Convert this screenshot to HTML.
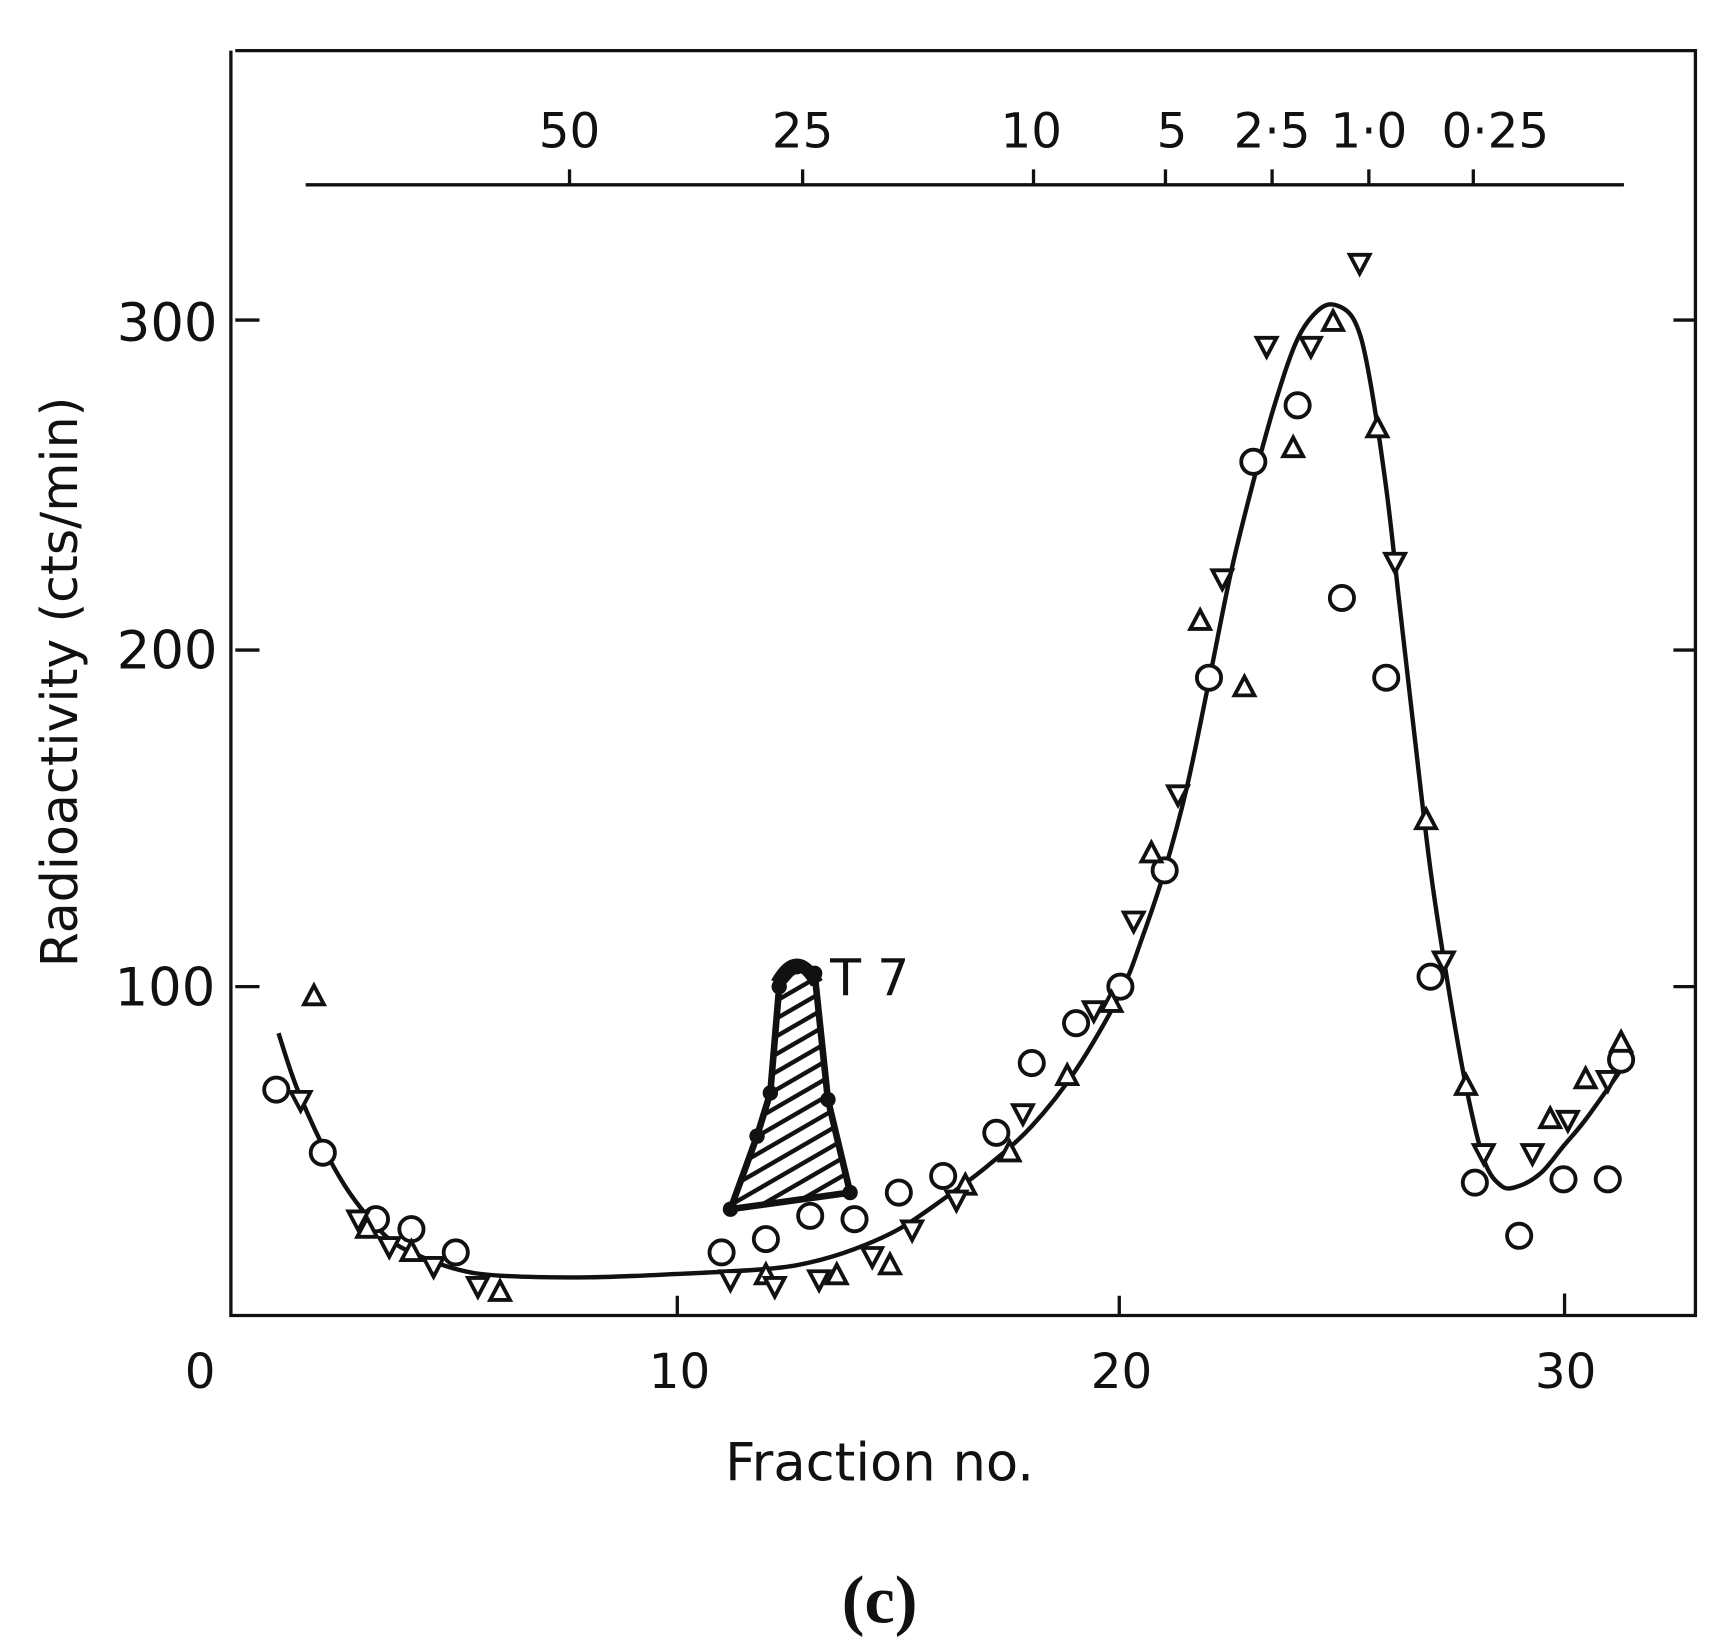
<!DOCTYPE html>
<html><head><meta charset="utf-8"><style>
html,body{margin:0;padding:0;background:#fff}
svg{display:block}
text{font-family:"DejaVu Sans","Liberation Sans",sans-serif;fill:#111}
</style></head><body>
<svg id="s" width="1724" height="1651" viewBox="0 0 1568 1501" preserveAspectRatio="none" xmlns="http://www.w3.org/2000/svg">
<defs>
<pattern id="h" width="14" height="14" patternUnits="userSpaceOnUse" patternTransform="rotate(-30)">
<rect width="14" height="14" fill="#fff"/><line x1="0" y1="7" x2="14" y2="7" stroke="#111" stroke-width="4"/></pattern>
</defs>
<g stroke="#111" fill="none" stroke-width="3">
<path d="M214 46 H1542 V1196 H210 V46"/>
<path d="M278 168 H1477"/>
<path d="M518 168 v-14 M730 168 v-14 M940 168 v-14 M1060 168 v-14 M1157 168 v-14 M1245 168 v-14 M1340 168 v-14"/>
<path d="M214 291 h22 M214 591 h22 M214 897 h22"/>
<path d="M1542 291 h-20 M1542 591 h-20 M1542 897 h-20"/>
<path d="M616 1196 v-18 M1018 1196 v-18 M1423 1196 v-20"/>
</g>
<g font-size="44" text-anchor="middle">
<text x="518" y="134">50</text><text x="730" y="134">25</text><text x="938" y="134">10</text>
<text x="1066" y="134">5</text><text x="1157" y="134">2·5</text><text x="1245" y="134">1·0</text><text x="1360" y="134">0·25</text>
<text x="182" y="1262">0</text><text x="618" y="1262">10</text><text x="1020" y="1262">20</text><text x="1424" y="1262">30</text>
<text x="152" y="310" font-size="48">300</text><text x="152" y="608" font-size="48">200</text><text x="150" y="914" font-size="48">100</text>
<text x="800" y="1346" font-size="48">Fraction no.</text>
<text x="70" y="620" font-size="46" transform="rotate(-90 70 620)">Radioactivity (cts/min)</text>
<text x="755" y="905" font-size="46" text-anchor="start">T 7</text>
</g>
<text x="800" y="1475" font-size="62" text-anchor="middle" font-weight="bold" style="font-family:'Liberation Serif',serif">(c)</text>
<g id="g"></g>
</svg>
<script>
var X=function(f){return 213+40.3*f},Y=function(v){return 1199-3.02*v};
var g=document.getElementById('g'),h='';
function P(a){return a.map(function(p,i){return (i?'L':'M')+X(p[0]).toFixed(1)+' '+Y(p[1]).toFixed(1)}).join(' ')}
var t7=[[11.2,33],[11.8,55],[12.1,68],[12.3,100],[12.7,106],[13.1,104],[13.4,66],[13.9,38]];
h+='<path d="'+P(t7)+' Z" fill="url(#h)" stroke="#111" stroke-width="6" stroke-linejoin="round"/>';
t7.forEach(function(p){h+='<circle cx="'+X(p[0])+'" cy="'+Y(p[1])+'" r="7" fill="#111"/>'});
h+='<path d="M'+X(12.25)+' '+Y(101)+' Q'+X(12.7)+' '+Y(112)+' '+X(13.15)+' '+Y(101)+'" stroke="#111" stroke-width="12" fill="none"/>';
var c=[[1.0,86],[1.4,70],[2,52],[2.5,40],[3,31],[3.5,24],[4,20],[5,15],[6,13],[8,12.5],[10,13.5],[12,15],[13,17],[14,21],[15,27],[16,36],[17,46],[18,58],[19,75],[20,98],[20.5,115],[21,135],[21.5,160],[22,192],[22.5,225],[23,252],[23.5,276],[24,295],[24.5,304],[24.9,305],[25.3,300],[25.6,285],[26,250],[26.3,215],[26.6,180],[27,135],[27.4,100],[27.8,70],[28.2,48],[28.6,40],[29,40],[29.5,44],[30,52],[30.5,60],[31.3,75]];
var d='M'+X(c[0][0])+' '+Y(c[0][1]);
for(var i=1;i<c.length;i++){var p0=c[Math.max(i-2,0)],p1=c[i-1],p2=c[i],p3=c[Math.min(i+1,c.length-1)];
d+=' C'+(X(p1[0])+(X(p2[0])-X(p0[0]))/6)+' '+(Y(p1[1])+(Y(p2[1])-Y(p0[1]))/6)+' '+(X(p2[0])-(X(p3[0])-X(p1[0]))/6)+' '+(Y(p2[1])-(Y(p3[1])-Y(p1[1]))/6)+' '+X(p2[0])+' '+Y(p2[1]);}
h+='<path d="'+d+'" fill="none" stroke="#111" stroke-width="4"/>';
var o=[[0.95,69],[2,50],[3.2,30],[4,27],[5,20],[11,20],[12,24],[13,31],[14,30],[15,38],[16,43],[17.2,56],[18,77],[19,89],[20,100],[21,135],[22,193],[23,258],[24,275],[25,217],[26,193],[27,103],[28,41],[29,25],[30,42],[31,42],[31.3,78]];
var t=[[1.8,97],[3,27],[4,20],[6,8],[12,13],[13.6,13],[14.8,16],[16.5,40],[17.5,50],[18.8,73],[19.8,95],[20.7,140],[21.8,210],[22.8,190],[23.9,262],[24.8,300],[25.8,268],[26.9,150],[27.8,70],[29.7,60],[30.5,72],[31.3,83]];
var v=[[1.5,66],[2.8,30],[3.5,22],[4.5,16],[5.5,10],[11.2,12],[12.2,10],[13.2,12],[14.4,19],[15.3,27],[16.3,36],[17.8,62],[19.4,93],[20.3,120],[21.3,158],[22.3,223],[23.3,293],[24.3,293],[25.4,318],[26.2,228],[27.3,108],[28.2,50],[29.3,50],[30.1,60],[31,72]];
o.forEach(function(p){h+='<circle cx="'+X(p[0])+'" cy="'+Y(p[1])+'" r="11" fill="#fff" stroke="#111" stroke-width="3.5"/>'});
t.forEach(function(p){var x=X(p[0]),y=Y(p[1]);h+='<path d="M'+x+' '+(y-10)+' L'+(x+9)+' '+(y+7)+' L'+(x-9)+' '+(y+7)+' Z" fill="#fff" stroke="#111" stroke-width="3.5"/>'});
v.forEach(function(p){var x=X(p[0]),y=Y(p[1]);h+='<path d="M'+x+' '+(y+10)+' L'+(x+9)+' '+(y-7)+' L'+(x-9)+' '+(y-7)+' Z" fill="#fff" stroke="#111" stroke-width="3.5"/>'});
g.innerHTML=h;
</script>
</body></html>
